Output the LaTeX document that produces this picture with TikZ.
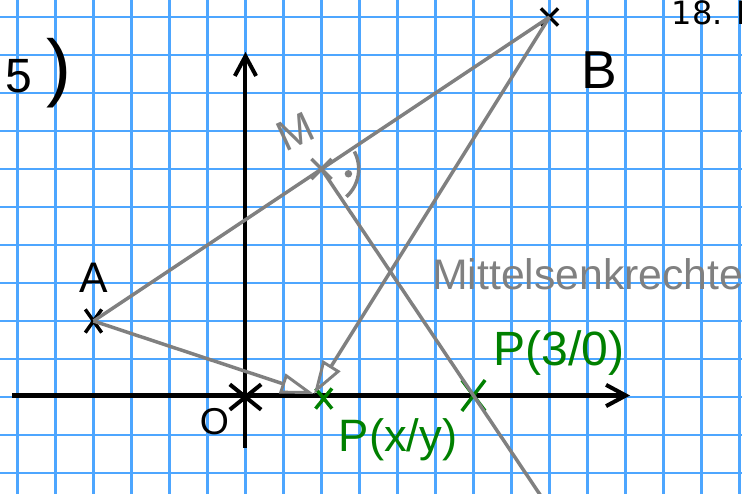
\documentclass[tikz,border=0pt]{standalone}
\usepackage{fontspec}
\setmainfont{Liberation Sans}
\newfontfamily\datefont{DejaVu Sans}
\usetikzlibrary{arrows.meta,calc,positioning,shapes.misc}

\definecolor{gridblue}{RGB}{77,166,255}
\definecolor{penGray}{RGB}{128,128,128}
\definecolor{penGreen}{RGB}{0,128,0}

\begin{document}
\begin{tikzpicture}[
    raster/.style={gridblue, line width=0.85pt},
    axis/.style={line width=1.5pt, -{Straight Barb[length=2.6mm, width=2.8mm, line width=1.5pt]}},
    seg/.style={penGray, line width=1.3pt},
    pointer/.style={
        seg,
        -{Triangle[open, length=4.4mm, width=2.7mm, line width=1.1pt]}
    },
    ptcross/.style={
        cross out,
        draw,
        line width=1.3pt,
        minimum size=0.2cm,
        inner sep=0pt
    },
    hand/.style={inner sep=0pt, font=\fontsize{#1}{#1}\selectfont},
    hand/.default=16pt
]
    %% Blatt
    \useasboundingbox (-3.230,-1.276) rectangle (6.533,5.224);
    \clip (-3.230,-1.276) rectangle (6.533,5.224);
    \fill[white] (-3.230,-1.276) rectangle (6.533,5.224);
    \draw[raster] (-3.5,-1.5) grid[step=0.5] (7,5.5);

    %% Achsen
    \coordinate (xl) at (-3.07,0.02);
    \coordinate (xr) at (5.06,0.02);
    \coordinate (yb) at (0,-0.67);
    \coordinate (yt) at (0,4.54);
    \draw[axis] (xl) -- (xr);
    \draw[axis] (yb) -- (yt);

    %% Punkte
    \node[ptcross, minimum width=0.17cm, minimum height=0.26cm] (A) at (-2,1) {};
    \node[ptcross, minimum size=0.18cm] (B) at (4,5) {};
    \node[ptcross, penGray, minimum size=0.22cm] (M) at (1,3) {};
    \node[ptcross, line width=1.5pt, minimum width=0.36cm, minimum height=0.28cm] (O) at (0,0) {};
    \node[ptcross, penGreen, minimum width=0.17cm, minimum height=0.22cm] (Pxy) at (1.03,-0.02) {};
    \node[ptcross, penGreen, minimum width=0.26cm, minimum height=0.36cm] (P30) at (3,0.02) {};
    \coordinate (Ptip) at (0.9,0.04);

    %% Strecke AB und Mittelsenkrechte
    \draw[seg] (A.center) -- (B.center);
    \draw[seg] (M.center) -- ($(M.center)!1.45!(P30.center)$);
    \draw[seg] ([shift={(28:0.49)}]M.center) arc[start angle=28, end angle=-48, radius=0.49];
    \fill[penGray] ([shift={(-10:0.36)}]M.center) circle (1.4pt);

    %% Pfeile zu P
    \draw[pointer] (A.center) -- (Ptip);
    \draw[pointer] (B.center) -- (Ptip);

    %% Beschriftung
    \node[hand=16pt, above=0.22cm of A] (labA) {A};
    \node[hand=20pt] (labB) at (4.66,4.30) {B};
    \node[hand=16pt, penGray, rotate=25] (labM) at (0.66,3.49) {M};
    \node[hand=14pt] (labO) at (-0.41,-0.33) {O};
    \node[hand=17pt, penGreen, anchor=base west] (labPxy) at (1.22,-0.72) {P(x/y)};
    \node[hand=18pt, penGreen, anchor=base west] (labP30) at (3.26,0.42) {P(3/0)};
    \node[hand=16pt, penGray, anchor=base west] (labMS) at (2.45,1.41) {Mittelsenkrechte};
    \node[hand=18pt, anchor=base west] (task) at (-3.16,4.01) {5\hspace{1.8mm}\fontsize{28pt}{28pt}\selectfont)};
    \node[inner sep=0pt, anchor=base west, font=\datefont\fontsize{12pt}{12pt}\selectfont] (date) at (5.60,4.895) {18. M};
\end{tikzpicture}
\end{document}
